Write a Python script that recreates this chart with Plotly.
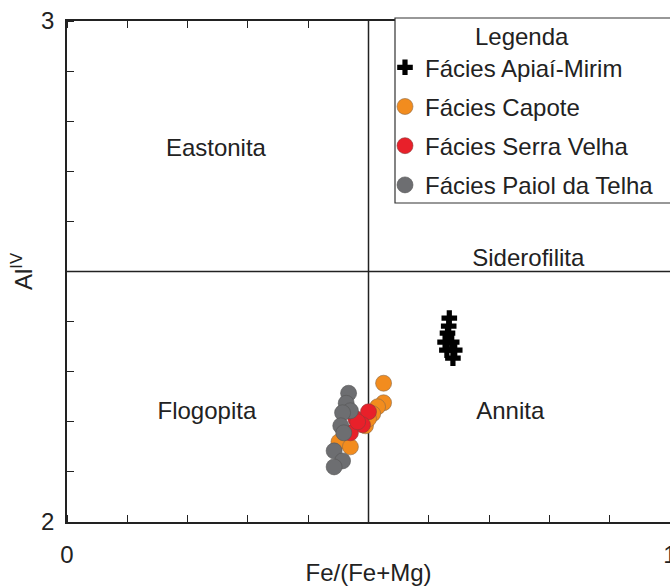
import plotly.graph_objects as go

# ---- data ----
apiai_x = [0.634, 0.633, 0.631, 0.627, 0.638, 0.643, 0.630, 0.640]
apiai_y = [2.407, 2.391, 2.377, 2.359, 2.359, 2.343, 2.343, 2.327]

capote_x = [0.525, 0.525, 0.515, 0.507, 0.495, 0.451, 0.470, 0.500]
capote_y = [2.277, 2.238, 2.230, 2.216, 2.192, 2.160, 2.150, 2.206]

serra_x = [0.479, 0.500, 0.490, 0.470, 0.482]
serra_y = [2.206, 2.220, 2.194, 2.178, 2.200]

paiol_x = [0.467, 0.463, 0.470, 0.457, 0.454, 0.459, 0.443, 0.457, 0.443]
paiol_y = [2.257, 2.237, 2.222, 2.218, 2.192, 2.178, 2.142, 2.122, 2.110]

regions = ["Eastonita", "Siderofilita", "Flogopita", "Annita"]
region_x = [0.247, 0.765, 0.232, 0.735]
region_y = [2.742, 2.522, 2.218, 2.218]

FONT = "Liberation Sans, Arial, sans-serif"
INK = "#222"

fig = go.Figure()
fig.add_trace(go.Scatter(x=apiai_x, y=apiai_y, mode="markers", name="Fácies Apiaí-Mirim",
                         marker=dict(symbol="cross", size=13, color="black"), legendgroup="a"))
fig.add_trace(go.Scatter(x=capote_x, y=capote_y, mode="markers", name="Fácies Capote",
                         marker=dict(symbol="circle", size=16, color="#F28C1E",
                                     line=dict(color="#8a6a4a", width=0.6)), legendgroup="b"))
fig.add_trace(go.Scatter(x=serra_x, y=serra_y, mode="markers", name="Fácies Serra Velha",
                         marker=dict(symbol="circle", size=16, color="#E8202A",
                                     line=dict(color="#8a3a3a", width=0.6)), legendgroup="c"))
fig.add_trace(go.Scatter(x=paiol_x, y=paiol_y, mode="markers", name="Fácies Paiol da Telha",
                         marker=dict(symbol="circle", size=16, color="#6D6E71",
                                     line=dict(color="#555555", width=0.6)), legendgroup="d"))
# second x axis just for top ticks
fig.add_trace(go.Scatter(x=[0, 1], y=[2, 2], mode="markers", marker=dict(opacity=0),
                         xaxis="x2", showlegend=False, hoverinfo="skip"))

fig.add_trace(go.Scatter(x=region_x, y=region_y, mode="text", text=regions,
                         textfont=dict(family=FONT, size=24, color=INK),
                         showlegend=False, hoverinfo="skip"))

fig.add_shape(type="line", x0=0.5, x1=0.5, y0=2, y1=3, xref="x", yref="y",
              line=dict(color=INK, width=1.5), layer="below")
fig.add_shape(type="line", x0=0, x1=1, y0=2.5, y1=2.5, xref="x", yref="y",
              line=dict(color=INK, width=1.5), layer="below")
# legend frame
fig.add_shape(type="rect", xref="paper", yref="paper",
              x0=(395 - 67) / 603, x1=1.01, y0=(522 - 203) / 501, y1=1.006,
              line=dict(color="#333", width=1.2), fillcolor="white", layer="above")

tick_minor = dict(ticks="inside", dtick=0.1, ticklen=7, tickcolor=INK, tickwidth=1.3)

fig.update_layout(
    width=670, height=586,
    margin=dict(l=67, r=0, t=21, b=64, autoexpand=False),
    paper_bgcolor="white", plot_bgcolor="white",
    font=dict(family=FONT, color=INK),
    showlegend=True,
    legend=dict(
        x=(385 - 67) / 603, y=1.014, xanchor="left", yanchor="top",
        bgcolor="rgba(0,0,0,0)", borderwidth=0,
        font=dict(family=FONT, size=24, color=INK),
        title=dict(text="Legenda", side="top center", font=dict(family=FONT, size=24)),
        tracegroupgap=5, itemwidth=30,
    ),
    xaxis=dict(
        range=[0, 1], tickvals=[0, 1], ticktext=["0", "1"],
        showgrid=False, zeroline=False, showline=True, linecolor=INK, linewidth=1.5,
        mirror=True,
        ticks="", ticklabelstandoff=10, ticklabeloverflow="allow", tickfont=dict(size=24),
        minor=dict(tick0=0, **tick_minor),
        title=dict(text="Fe/(Fe+Mg)", font=dict(size=24), standoff=8),
    ),
    xaxis2=dict(
        overlaying="x", side="top", range=[0, 1], showticklabels=False,
        showgrid=False, zeroline=False, tickvals=[0, 1], ticks="",
        minor=dict(tick0=0, **tick_minor),
    ),
    yaxis=dict(
        range=[2, 3], tickvals=[2, 3], ticktext=["2", "3"],
        showgrid=False, zeroline=False, showline=True, linecolor=INK, linewidth=1.5,
        mirror=True,
        ticks="", ticklabelstandoff=6, ticklabeloverflow="allow", tickfont=dict(size=24),
        minor=dict(tick0=2, **tick_minor),
        title=dict(text="Al<sup>IV</sup>", font=dict(size=24), standoff=2),
    ),
)

fig.write_html("out.html")
